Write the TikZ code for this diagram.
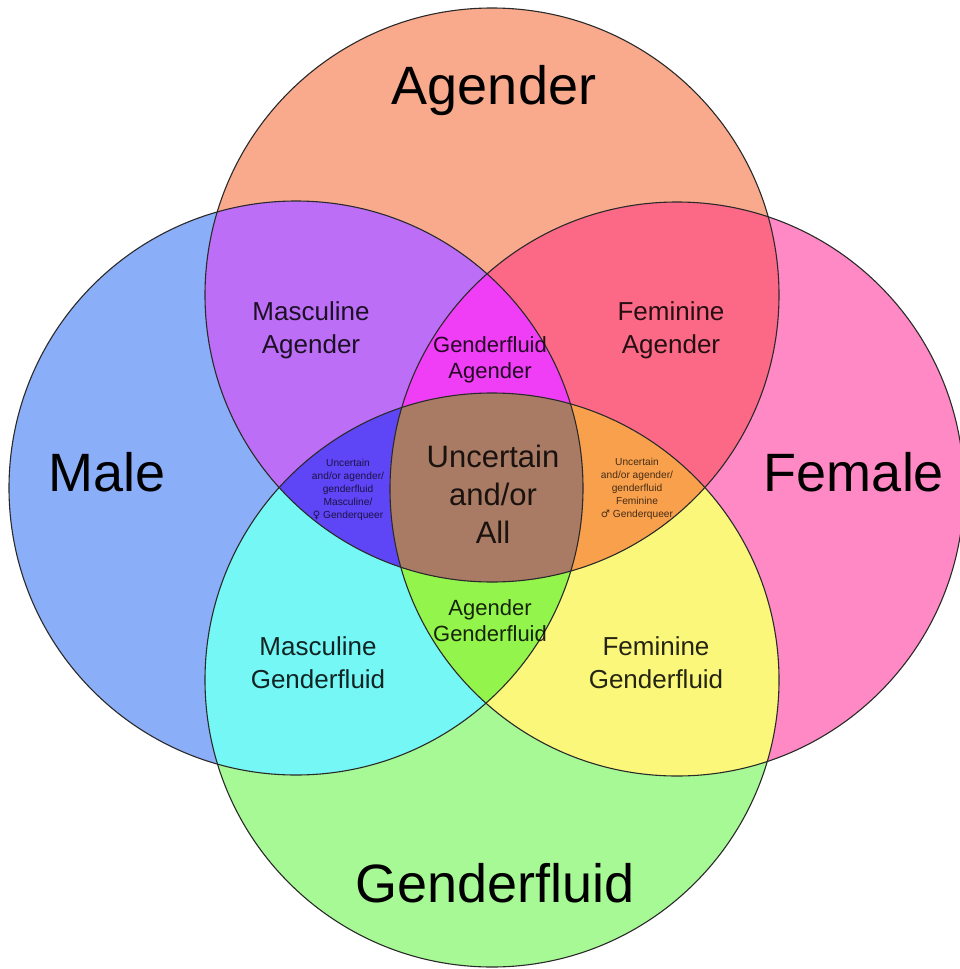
\documentclass[tikz,border=0pt]{standalone}
\usepackage{fontspec}
\setmainfont{Liberation Sans}
\newfontfamily\symfont{DejaVu Sans}
\definecolor{cT}{HTML}{F9A98C}
\definecolor{cL}{HTML}{8BAEF8}
\definecolor{cR}{HTML}{FF89C5}
\definecolor{cB}{HTML}{A6F994}
\definecolor{cTL}{HTML}{BC6EF6}
\definecolor{cTR}{HTML}{FB6986}
\definecolor{cBL}{HTML}{75F7F5}
\definecolor{cBR}{HTML}{FAF77B}
\definecolor{cTLR}{HTML}{F03DF6}
\definecolor{cBLR}{HTML}{93F54B}
\definecolor{cTBL}{HTML}{5E45F6}
\definecolor{cTBR}{HTML}{F9A04C}
\definecolor{cAll}{HTML}{A97B64}
\definecolor{edge}{HTML}{2A2A2A}
\newcommand{\Rad}{287pt}
\begin{document}
\begin{tikzpicture}[x=1pt,y=-1pt,
  big/.style={inner sep=0pt, anchor=base, text=black, font=\fontsize{54}{60}\selectfont},
  mid/.style={inner sep=0pt, align=center, text=black, text opacity=0.85, font=\fontsize{26}{33}\selectfont},
  smallmid/.style={inner sep=0pt, align=center, text=black, text opacity=0.85, font=\fontsize{22}{26}\selectfont},
  centre/.style={inner sep=0pt, align=center, text=black, text opacity=0.85, font=\fontsize{31}{38}\selectfont},
  tiny/.style={inner sep=0pt, align=center, text=black, text opacity=0.72, font=\fontsize{10.2}{13}\selectfont},
  ring/.style={draw=edge, line width=1.1pt}]
\useasboundingbox (0,0) rectangle (960,969);
\fill[white] (0,0) rectangle (960,969);
\coordinate (T) at (492,295);
\coordinate (B) at (492,680);
\coordinate (L) at (296,488);
\coordinate (R) at (677,489);
% single circles
\fill[cT] (T) circle[radius=\Rad];
\fill[cL] (L) circle[radius=\Rad];
\fill[cR] (R) circle[radius=\Rad];
\fill[cB] (B) circle[radius=\Rad];
% pairs
\begin{scope}\clip (T) circle[radius=\Rad]; \fill[cTL] (L) circle[radius=\Rad]; \fill[cTR] (R) circle[radius=\Rad];\end{scope}
\begin{scope}\clip (B) circle[radius=\Rad]; \fill[cBL] (L) circle[radius=\Rad]; \fill[cBR] (R) circle[radius=\Rad];\end{scope}
% triples
\begin{scope}\clip (L) circle[radius=\Rad]; \clip (R) circle[radius=\Rad];
  \fill[cTLR] (T) circle[radius=\Rad]; \fill[cBLR] (B) circle[radius=\Rad];\end{scope}
\begin{scope}\clip (T) circle[radius=\Rad]; \clip (B) circle[radius=\Rad];
  \fill[cTBL] (L) circle[radius=\Rad]; \fill[cTBR] (R) circle[radius=\Rad];\end{scope}
% all four
\begin{scope}\clip (T) circle[radius=\Rad]; \clip (B) circle[radius=\Rad]; \clip (L) circle[radius=\Rad];
  \fill[cAll] (R) circle[radius=\Rad];\end{scope}
% outlines
\draw[ring] (T) circle[radius=\Rad];
\draw[ring] (L) circle[radius=\Rad];
\draw[ring] (R) circle[radius=\Rad];
\draw[ring] (B) circle[radius=\Rad];
% labels
\node[big] (agender) at (494,104) {Agender};
\node[big] (male) at (107,491) {Male};
\node[big] (female) at (854,491) {Female};
\node[big] (gfluid) at (495,902) {Genderfluid};
\node[mid] (mascag) at (311,330) {Masculine\\Agender};
\node[mid] (femag) at (671,330) {Feminine\\Agender};
\node[smallmid] (gfag) at (490,360) {Genderfluid\\Agender};
\node[centre] (uncert) at (493,494) {Uncertain\\and/or\\All};
\node[smallmid] (aggf) at (490,621) {Agender\\Genderfluid};
\node[mid] (mascgf) at (318,663) {Masculine\\Genderfluid};
\node[mid] (femgf) at (656,663) {Feminine\\Genderfluid};
\node[tiny] (leftq) at (348,490) {Uncertain\\and/or agender/\\genderfluid\\Masculine/\\{\symfont ♀} Genderqueer};
\node[tiny] (rightq) at (637,489) {Uncertain\\and/or agender/\\genderfluid\\Feminine\\{\symfont ♂} Genderqueer};
\end{tikzpicture}
\end{document}
